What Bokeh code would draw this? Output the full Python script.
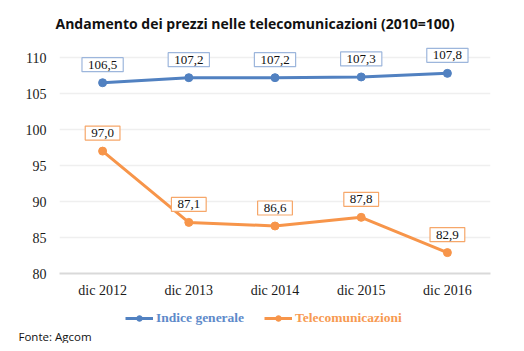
from bokeh.plotting import figure
from bokeh.models import (ColumnDataSource, Range1d, FactorRange, FixedTicker,
                          Title, Legend, LegendItem)
from bokeh.layouts import column
from bokeh.core.properties import value
from bokeh.embed import file_html
from bokeh.resources import INLINE

categories = ["dic 2012", "dic 2013", "dic 2014", "dic 2015", "dic 2016"]
indice_generale = [106.5, 107.2, 107.2, 107.3, 107.8]
telecomunicazioni = [97.0, 87.1, 86.6, 87.8, 82.9]
y_ticks = [80, 85, 90, 95, 100, 105, 110]
series_names = ["Indice generale", "Telecomunicazioni"]

title_text = "Andamento dei prezzi nelle telecomunicazioni (2010=100)"
source_text = "Fonte: Agcom"

BLUE = "#5181C1"
ORANGE = "#F7954A"
BLUE_BOX = "#9DB6DC"
ORANGE_BOX = "#F6A76A"
BLUE_TXT = "#5E8ACA"
ORANGE_TXT = "#F79A52"

def fmt(v):
    return ("%.1f" % v).replace(".", ",")

src_b = ColumnDataSource(dict(x=categories, y=indice_generale, t=[fmt(v) for v in indice_generale]))
src_o = ColumnDataSource(dict(x=categories, y=telecomunicazioni, t=[fmt(v) for v in telecomunicazioni]))

xr = FactorRange(*categories, range_padding=0)
p = figure(width=524, height=305, output_backend="svg", toolbar_location=None,
           x_range=xr, y_range=Range1d(80, 111.67),
           min_border_left=59, min_border_right=34, min_border_top=45, min_border_bottom=32,
           title=title_text)
p.title.text_font = "Open Sans"
p.title.text_font_style = "bold"
p.title.text_font_size = "14px"
p.title.text_color = "#111111"
p.title.align = "left"
p.title.offset = -4
p.title.standoff = 22
p.title.text_line_height = 0.75
p.title.vertical_align = "top"
p.outline_line_color = None
p.background_fill_color = "white"
p.border_fill_color = "white"

p.yaxis.ticker = FixedTicker(ticks=y_ticks)
p.ygrid.ticker = FixedTicker(ticks=y_ticks)
p.ygrid.grid_line_color = "#EFEFEF"
p.ygrid.grid_line_width = 1.5
p.xgrid.grid_line_color = None
p.yaxis.axis_line_color = None
p.xaxis.axis_line_color = "#D9D9D9"
p.xaxis.axis_line_width = 2
for ax in (p.xaxis, p.yaxis):
    ax.major_tick_line_color = None
    ax.minor_tick_line_color = None
    ax.major_tick_out = 0
    ax.minor_tick_out = 0
    ax.major_label_text_font = "Liberation Serif"
    ax.major_label_text_font_size = "14px"
    ax.major_label_text_color = "#1a1a1a"
p.yaxis.major_label_standoff = 13
p.xaxis.major_label_standoff = 9

p.line("x", "y", source=src_b, line_color=BLUE, line_width=3)
p.scatter("x", "y", source=src_b, size=8, fill_color=BLUE, line_color=BLUE)
p.line("x", "y", source=src_o, line_color=ORANGE, line_width=3)
p.scatter("x", "y", source=src_o, size=8, fill_color=ORANGE, line_color=ORANGE)

for src, bc in ((src_b, BLUE_BOX), (src_o, ORANGE_BOX)):
    p.text("x", "y", text="t", source=src, y_offset=-18,
           text_align="center", text_baseline="middle",
           text_font=value("Liberation Serif"), text_font_size="13px",
           text_color="#111111",
           background_fill_color="white", border_line_color=bc,
           border_line_width=1.2, padding=dict(x=6, y=3))

# legend + footer strip (series drawn out of its visible range; only legend shows)
q = figure(width=524, height=38, output_backend="svg", toolbar_location=None,
           x_range=xr, y_range=Range1d(0, 1),
           x_axis_location=None, y_axis_location=None,
           min_border_left=59, min_border_right=34, min_border_top=0, min_border_bottom=0)
q.outline_line_color = None
q.xgrid.visible = False
q.ygrid.visible = False

for name, src, color, tcolor, xloc in ((series_names[0], src_b, BLUE, BLUE_TXT, 66),
                                       (series_names[1], src_o, ORANGE, ORANGE_TXT, 205)):
    r1 = q.line("x", "y", source=src, line_color=color, line_width=3)
    r2 = q.scatter("x", "y", source=src, size=8, fill_color=color, line_color=color)
    lg = Legend(items=[LegendItem(label=name, renderers=[r1, r2])], location=(xloc, 0),
                orientation="horizontal",
                label_text_font="Liberation Serif", label_text_font_style="bold",
                label_text_font_size="13.5px", label_text_color=tcolor,
                glyph_width=28, glyph_height=14, label_standoff=3,
                padding=0, margin=0, border_line_color=None,
                background_fill_alpha=0)
    q.add_layout(lg, "center")

q.add_layout(Title(text=source_text, align="left", offset=-41, standoff=0,
                   text_font="Open Sans", text_font_style="normal", text_font_size="11.5px",
                   text_color="#111111"), "below")

layout = column(p, q, spacing=0)
open("out.html", "w").write(file_html(layout, INLINE))
